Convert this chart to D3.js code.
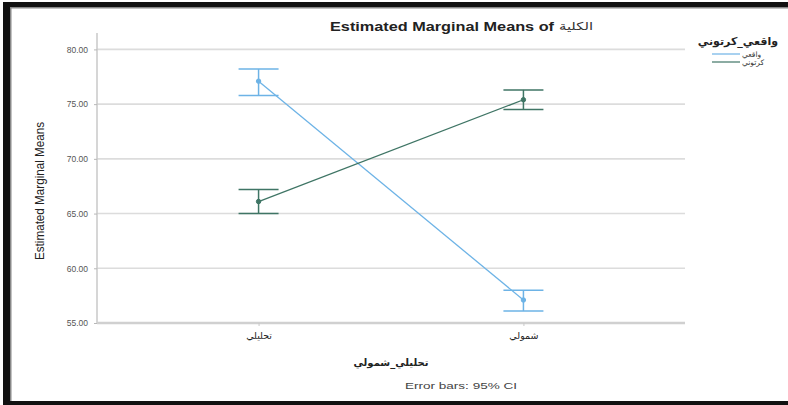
<!DOCTYPE html>
<html>
<head>
<meta charset="utf-8">
<script src="https://cdn.jsdelivr.net/npm/d3@7"></script>
<style>
  html, body { margin: 0; padding: 0; background: #fff; }
  svg { display: block; }
</style>
</head>
<body>
<svg id="chart" width="788" height="405"></svg>
<script>
// Factor levels and series
const categories = ["تحليلي", "شمولي"];
const seriesNames = ["واقعي", "كرتوني"];
const seriesColors = ["#6db3e6", "#3f7565"];

// Estimated marginal means with 95% CI bounds, per series
const realisticMeans = [77.1, 57.1];
const realisticLower = [75.8, 56.1];
const realisticUpper = [78.2, 58.0];
const cartoonMeans = [66.1, 75.4];
const cartoonLower = [65.0, 74.5];
const cartoonUpper = [67.2, 76.3];

const yTicks = [55, 60, 65, 70, 75, 80];
const titleText = "Estimated Marginal Means of";
const titleArabic = "الكلية";
const yAxisTitle = "Estimated Marginal Means";
const xAxisTitle = "تحليلي_شمولي";
const legendTitle = "واقعي_كرتوني";
const footnote = "Error bars: 95% CI";

const series = [
  { name: seriesNames[0], color: seriesColors[0], means: realisticMeans, lower: realisticLower, upper: realisticUpper },
  { name: seriesNames[1], color: seriesColors[1], means: cartoonMeans, lower: cartoonLower, upper: cartoonUpper }
];

const svg = d3.select("#chart");
const plot = { left: 97, right: 685, top: 33, bottom: 323 };

const x = d3.scalePoint().domain(categories).range([plot.left, plot.right]).padding(0.61);
const y = d3.scaleLinear().domain([55, 81.5]).range([plot.bottom, plot.top]);

// Frame around the output
svg.append("rect").attr("x", 3).attr("y", 2).attr("width", 7).attr("height", 403).attr("fill", "#111");
svg.append("rect").attr("x", 3).attr("y", 2).attr("width", 785).attr("height", 5).attr("fill", "#111");
svg.append("rect").attr("x", 3).attr("y", 401).attr("width", 785).attr("height", 4).attr("fill", "#111");
svg.append("rect").attr("x", 10).attr("y", 7).attr("width", 778).attr("height", 1.5).attr("fill", "#888");
svg.append("rect").attr("x", 10).attr("y", 7).attr("width", 1.5).attr("height", 394).attr("fill", "#888");

// Gridlines
svg.append("g").selectAll("line").data(yTicks.filter(d => d !== 55)).join("line")
  .attr("x1", plot.left).attr("x2", plot.right)
  .attr("y1", d => y(d)).attr("y2", d => y(d))
  .attr("stroke", "#dcdcdc").attr("stroke-width", 1.6);

// Y axis
const yAxis = d3.axisLeft(y).tickValues(yTicks).tickFormat(d3.format(".2f")).tickSize(3).tickPadding(6);
const gy = svg.append("g").attr("transform", `translate(${plot.left},0)`).call(yAxis);
gy.select(".domain").attr("stroke", "#c8c8c8").attr("stroke-width", 1.5)
  .attr("d", `M0,${plot.top}V${plot.bottom}`);
gy.selectAll(".tick line").attr("stroke", "#b8b8b8");
gy.selectAll(".tick text").attr("fill", "#555").style("font", "8.5px 'Liberation Sans', Arial, sans-serif");

// X axis
const xAxis = d3.axisBottom(x).tickSize(3).tickPadding(6);
const gx = svg.append("g").attr("transform", `translate(0,${plot.bottom})`).call(xAxis);
gx.select(".domain").attr("stroke", "#d0d0d0").attr("stroke-width", 2.5)
  .attr("d", `M${plot.left},0H${plot.right}`);
gx.selectAll(".tick line").attr("stroke", "#c8c8c8");
gx.selectAll(".tick text").attr("fill", "#222").style("font", "9.5px 'DejaVu Sans', sans-serif");

// Series lines, error bars and mean markers
const line = d3.line().x((d, i) => x(categories[i])).y(d => y(d));
const capHalf = 20;
series.forEach(s => {
  const g = svg.append("g");
  g.append("path").datum(s.means).attr("d", line)
    .attr("fill", "none").attr("stroke", s.color).attr("stroke-width", 1.3);
  const bars = categories.map((c, i) => ({ c, m: s.means[i], lo: s.lower[i], hi: s.upper[i] }));
  g.selectAll(".ci").data(bars).join("line")
    .attr("x1", d => x(d.c)).attr("x2", d => x(d.c))
    .attr("y1", d => y(d.lo)).attr("y2", d => y(d.hi))
    .attr("stroke", s.color).attr("stroke-width", 1.5);
  ["lo", "hi"].forEach(k => {
    g.selectAll(".cap-" + k).data(bars).join("line")
      .attr("x1", d => x(d.c) - capHalf).attr("x2", d => x(d.c) + capHalf)
      .attr("y1", d => y(d[k])).attr("y2", d => y(d[k]))
      .attr("stroke", s.color).attr("stroke-width", 1.5);
  });
  g.selectAll("circle").data(bars).join("circle")
    .attr("cx", d => x(d.c)).attr("cy", d => y(d.m)).attr("r", 2.2)
    .attr("fill", s.color).attr("stroke", s.color);
});

// Title
svg.append("text").attr("x", 330).attr("y", 31)
  .attr("textLength", 224).attr("lengthAdjust", "spacingAndGlyphs")
  .style("font", "bold 12px 'Liberation Sans', Arial, sans-serif").attr("fill", "#222").text(titleText);
svg.append("text").attr("x", 559).attr("y", 30).attr("text-anchor", "start")
  .attr("textLength", 34).attr("lengthAdjust", "spacingAndGlyphs")
  .style("font", "11px 'DejaVu Sans', sans-serif").attr("fill", "#333").text(titleArabic);

// Axis titles
svg.append("text").attr("transform", `translate(44,${(plot.top + plot.bottom) / 2 + 13}) rotate(-90)`)
  .attr("text-anchor", "middle").attr("textLength", 138).attr("lengthAdjust", "spacingAndGlyphs")
  .style("font", "12px 'Liberation Sans', Arial, sans-serif").attr("fill", "#222").text(yAxisTitle);
svg.append("text").attr("x", 391).attr("y", 366).attr("text-anchor", "middle")
  .style("font", "bold 10px 'DejaVu Sans', sans-serif").attr("fill", "#222").text(xAxisTitle);
svg.append("text").attr("x", 461).attr("y", 389).attr("text-anchor", "middle")
  .attr("textLength", 112).attr("lengthAdjust", "spacingAndGlyphs")
  .style("font", "9.5px 'Liberation Sans', Arial, sans-serif").attr("fill", "#444").text(footnote);

// Legend
const legend = svg.append("g");
legend.append("text").attr("x", 778).attr("y", 45).attr("text-anchor", "end")
  .style("font", "bold 11px 'DejaVu Sans', sans-serif").attr("fill", "#222").text(legendTitle);
series.forEach((s, i) => {
  const ly = 54 + i * 8;
  legend.append("line").attr("x1", 712).attr("x2", 740).attr("y1", ly).attr("y2", ly)
    .attr("stroke", s.color).attr("stroke-width", 1.2);
  legend.append("text").attr("x", 742).attr("y", ly + 2.5).attr("text-anchor", "start")
    .style("font", "7.5px 'DejaVu Sans', sans-serif").attr("fill", "#333").text(s.name);
});
</script>
</body>
</html>
